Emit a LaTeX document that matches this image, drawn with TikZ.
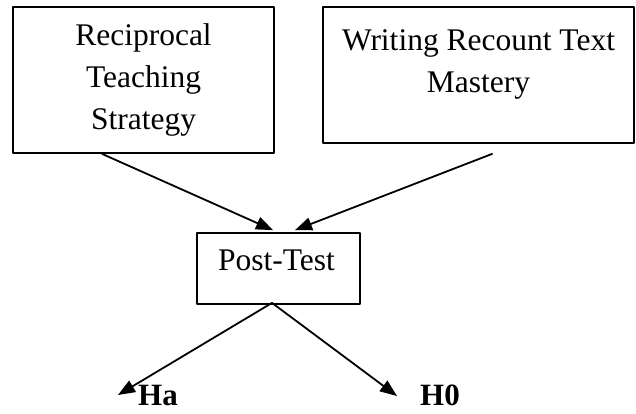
\documentclass[tikz,border=0pt]{standalone}
\usepackage{fontspec}
\setmainfont{Liberation Serif}
\usetikzlibrary{arrows.meta}
\tikzset{
	box/.style={draw, line width=1.8pt, align=center, inner sep=0pt},
	hyp/.style={font=\fontsize{31}{36}\selectfont\bfseries, anchor=base, inner sep=0pt}
}
\begin{document}
\begin{tikzpicture}[x=1pt, y=-1pt, line join=round, line cap=round, >={Triangle[length=17pt,width=13pt]}, font=\fontsize{31.5}{42}\selectfont]
		\useasboundingbox (0,0) rectangle (636,414);
		\node[box, minimum width=261pt, minimum height=146pt] (RT) at (143.5,80)
		{Reciprocal\\Teaching\\Strategy};
		\node[box, minimum width=311pt, minimum height=136pt] (WR) at (478.5,75)
		{Writing Recount Text\\Mastery\\[-14pt]\mbox{}};
		\node[box, text width=121pt, align=left, inner xsep=21pt, text height=37pt, text depth=34pt] (PT) at (278.5,268.5) {Post-Test};
		\node[hyp] (Ha) at (158,405) {Ha};
		\node[hyp] (H0) at (440,405) {H0};
		\path
		([xshift=90pt]RT.south west) coordinate (RTout)
		([xshift=170pt,yshift=-10pt]WR.south west) coordinate (WRout)
		([xshift=-5.5pt,yshift=2pt]PT.north) coordinate (PTin1)
		([xshift=16.5pt,yshift=2pt]PT.north) coordinate (PTin2)
		([xshift=-6.5pt,yshift=2pt]PT.south) coordinate (PTout)
		(118,395) coordinate (HaTip)
		(397,396) coordinate (H0Tip);
		\draw[->, line width=1.8pt] (RTout) -- (PTin1);
		\draw[->, line width=1.8pt] (WRout) -- (PTin2);
		\foreach \t in {HaTip, H0Tip}
		\draw[->, line width=1.8pt] (PTout) -- (\t);
	\end{tikzpicture}
\end{document}
